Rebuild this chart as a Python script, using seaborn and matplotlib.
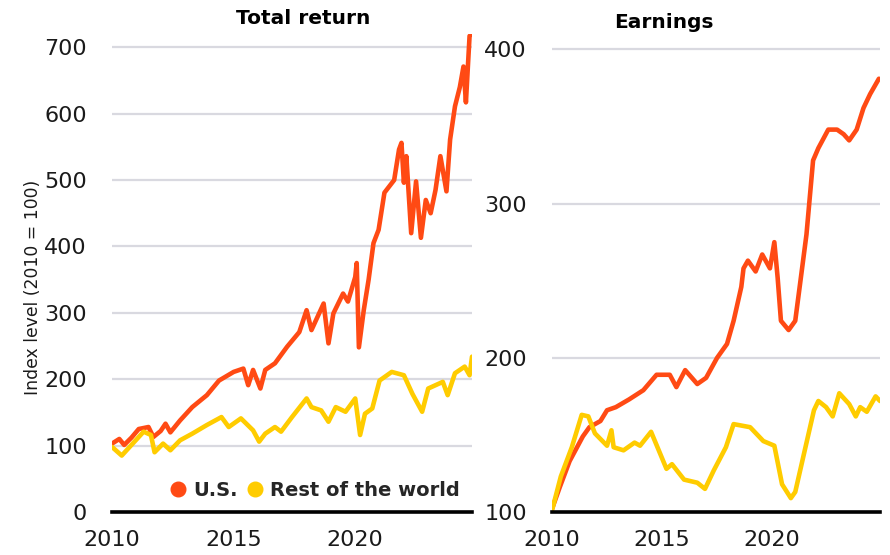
import numpy as np
import pandas as pd
import seaborn as sns
import matplotlib.pyplot as plt
from matplotlib.lines import Line2D

# Total return, U.S. (index, 2010 = 100)
us_tr_year = [2010.0, 2010.3, 2010.5, 2010.8, 2011.1, 2011.5, 2011.7, 2012.0, 2012.2, 2012.4,
              2012.8, 2013.3, 2013.9, 2014.4, 2015.0, 2015.4, 2015.6, 2015.8, 2016.1, 2016.3,
              2016.7, 2017.2, 2017.7, 2018.0, 2018.2, 2018.7, 2018.9, 2019.1, 2019.5, 2019.7,
              2020.0, 2020.06, 2020.15, 2020.35, 2020.55, 2020.75, 2020.96, 2021.2, 2021.6, 2021.8,
              2021.9, 2022.0, 2022.1, 2022.3, 2022.5, 2022.7, 2022.9, 2023.1, 2023.3, 2023.5,
              2023.75, 2023.9, 2024.1, 2024.3, 2024.45, 2024.55, 2024.7, 2024.8]
us_tr_val = [103, 110, 101, 112, 125, 128, 113, 122, 133, 120,
             138, 158, 176, 198, 211, 216, 191, 214, 186, 214,
             224, 249, 271, 304, 274, 314, 254, 299, 329, 317,
             354, 375, 248, 304, 350, 405, 425, 481, 500, 546,
             556, 496, 536, 420, 498, 413, 470, 450, 485, 536,
             483, 561, 611, 640, 671, 617, 717, 720]

# Total return, rest of the world
row_tr_year = [2010.0, 2010.4, 2010.85, 2011.3, 2011.6, 2011.75, 2012.1, 2012.4, 2012.8, 2013.3,
               2013.9, 2014.5, 2014.8, 2015.3, 2015.8, 2016.05, 2016.3, 2016.7, 2016.95, 2017.4,
               2018.0, 2018.2, 2018.6, 2018.9, 2019.2, 2019.6, 2020.0, 2020.2, 2020.4, 2020.7,
               2021.0, 2021.5, 2022.0, 2022.35, 2022.75, 2023.0, 2023.6, 2023.8, 2024.1, 2024.5,
               2024.7, 2024.8]
row_tr_val = [98, 85, 103, 121, 116, 90, 103, 93, 108, 118,
              131, 143, 128, 141, 123, 106, 118, 128, 121, 143,
              171, 158, 153, 136, 158, 151, 171, 116, 148, 156,
              198, 211, 206, 178, 151, 186, 196, 176, 209, 219,
              206, 234]

# Earnings, U.S.
us_eps_year = [2010.0, 2010.35, 2010.8, 2011.4, 2011.7, 2012.2, 2012.5, 2012.9, 2013.5, 2014.15,
               2014.75, 2015.35, 2015.65, 2016.05, 2016.6, 2017.0, 2017.5, 2017.95, 2018.25, 2018.6,
               2018.7, 2018.9, 2019.25, 2019.55, 2019.9, 2020.1, 2020.25, 2020.4, 2020.75, 2021.05,
               2021.26, 2021.56, 2021.86, 2022.1, 2022.55, 2022.95, 2023.25, 2023.5, 2023.84, 2024.15,
               2024.45, 2024.85]
us_eps_val = [102, 116, 133, 149, 155, 159, 166, 168, 173, 179,
              189, 189, 181, 192, 183, 187, 200, 209, 224, 246,
              258, 263, 256, 267, 258, 275, 252, 224, 218, 224,
              247, 280, 328, 336, 348, 348, 345, 341, 348, 362,
              371, 381]

# Earnings, rest of the world
row_eps_year = [2010.0, 2010.4, 2010.9, 2011.35, 2011.65, 2011.95, 2012.5, 2012.7, 2012.8, 2013.25,
                2013.75, 2014.0, 2014.5, 2015.2, 2015.45, 2016.0, 2016.6, 2016.95, 2017.35, 2017.9,
                2018.25, 2019.0, 2019.6, 2020.1, 2020.45, 2020.85, 2021.05, 2021.45, 2021.9, 2022.1,
                2022.45, 2022.75, 2023.05, 2023.5, 2023.8, 2024.0, 2024.3, 2024.7, 2024.9]
row_eps_val = [101, 123, 142, 163, 162, 151, 143, 153, 142, 140,
               145, 143, 152, 128, 131, 121, 119, 115, 127, 142,
               157, 155, 146, 143, 118, 109, 113, 138, 166, 172,
               168, 162, 177, 170, 162, 168, 165, 175, 172]

US_COLOR = "#FF4A14"
ROW_COLOR = "#FFCC00"
GRID = "#D9D9E0"
TXT = "#1a1a1a"

sns.set_style("white")
plt.rcParams["font.family"] = ["DejaVu Sans"]

fig = plt.figure(figsize=(8.9, 5.55), dpi=100)
ax1 = fig.add_axes([112 / 890, 43 / 555, 360 / 890, 478 / 555])
ax2 = fig.add_axes([552 / 890, 43 / 555, 328 / 890, 478 / 555])

sns.lineplot(x=us_tr_year, y=us_tr_val, color=US_COLOR, lw=3.3, ax=ax1, estimator=None)
sns.lineplot(x=row_tr_year, y=row_tr_val, color=ROW_COLOR, lw=3.3, ax=ax1, estimator=None)
sns.lineplot(x=us_eps_year, y=us_eps_val, color=US_COLOR, lw=3.3, ax=ax2, estimator=None)
sns.lineplot(x=row_eps_year, y=row_eps_val, color=ROW_COLOR, lw=3.3, ax=ax2, estimator=None)

ax1.set_xlim(2010, 2024.8)
ax1.set_ylim(0, 720)
ax1.set_yticks(range(0, 701, 100))
ax2.set_xlim(2010, 2024.9)
ax2.set_ylim(100, 410)
ax2.set_yticks([100, 200, 300, 400])

for ax in (ax1, ax2):
    ax.set_xticks([2010, 2015, 2020])
    ax.set_axisbelow(True)
    ax.grid(axis="y", color=GRID, lw=1.6)
    ax.grid(axis="x", visible=False)
    for s in ("top", "right", "left"):
        ax.spines[s].set_visible(False)
    ax.spines["bottom"].set_color("black")
    ax.spines["bottom"].set_linewidth(2.6)
    ax.spines["bottom"].set_zorder(5)
    ax.tick_params(axis="x", length=5, width=2.4, color="black", pad=8,
                   labelsize=16, labelcolor=TXT)
    ax.tick_params(axis="y", length=0, pad=18, labelsize=16, labelcolor=TXT)
    ax.set_xlabel("")
    ax.set_ylabel("")

ax1.set_ylabel("Index level (2010 = 100)", fontsize=12.4, color=TXT)
ax1.yaxis.set_label_coords(-0.195, 0.47)
fig.text(303 / 890, 1 - 19 / 555, "Total return", ha="center", va="center",
         fontsize=14.5, fontweight="bold", color="black")
fig.text(664 / 890, 1 - 23 / 555, "Earnings", ha="center", va="center",
         fontsize=14.5, fontweight="bold", color="black")

handles = [Line2D([], [], ls="none", marker="o", ms=10.5, color=US_COLOR),
           Line2D([], [], ls="none", marker="o", ms=10.5, color=ROW_COLOR)]
leg = ax1.legend(handles, ["U.S.", "Rest of the world"], loc="center right",
                 bbox_to_anchor=(0.965, 0.046), ncol=2, frameon=False,
                 handlelength=0.8, handletextpad=0.35, columnspacing=0.5,
                 borderpad=0, borderaxespad=0,
                 prop={"weight": "bold", "size": 14})

fig.savefig("out.png", dpi=100)
